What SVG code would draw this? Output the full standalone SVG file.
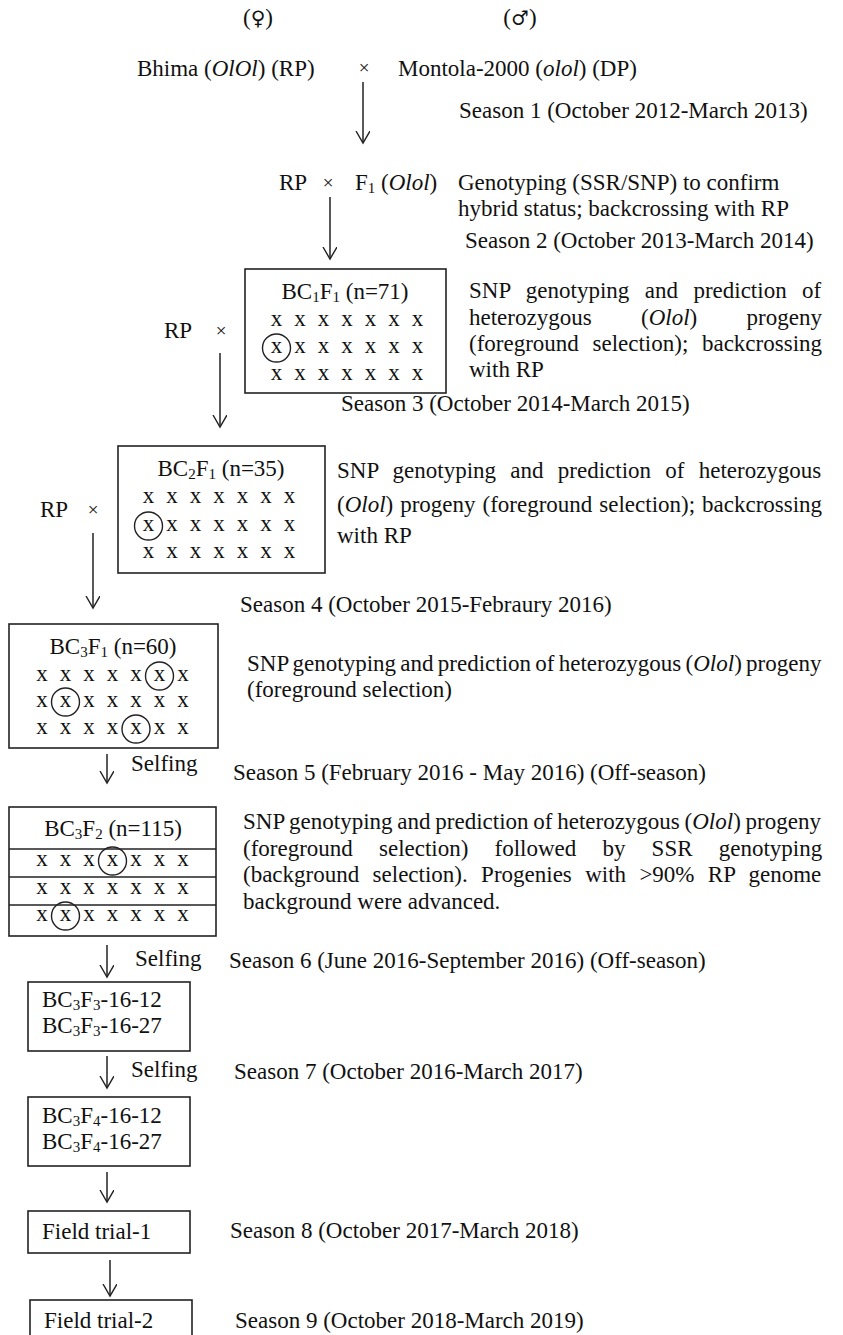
<svg xmlns="http://www.w3.org/2000/svg" width="843" height="1335" viewBox="0 0 843 1335">
<defs>
<style>
text{font-family:"Liberation Serif","Times New Roman",serif;font-size:23px;fill:#111}
.sym{font-family:"DejaVu Serif","Liberation Serif",serif;font-size:20px}
.x{font-size:23px}
.c{text-anchor:middle}
.box{fill:none;stroke:#222;stroke-width:1.6}
.ln{stroke:#222;stroke-width:1.5;fill:none}
.ring{fill:none;stroke:#222;stroke-width:1.4}
.times{font-size:19px}
</style>
<marker id="ah" markerWidth="16" markerHeight="16" refX="12" refY="7" orient="auto" markerUnits="userSpaceOnUse"><path d="M0,0 L12,7 L0,14" fill="none" stroke="#222" stroke-width="1.4"/></marker>
</defs>
<rect width="843" height="1335" fill="#fff"/>

<g id="parents">
<text class="c" x="258" y="25">(<tspan class="sym">♀</tspan>)</text>
<text class="c" x="520" y="25">(<tspan class="sym">♂</tspan>)</text>
<text x="137" y="76">Bhima (<tspan font-style="italic">OlOl</tspan>) (RP)</text>
<text class="c times" x="364" y="74">×</text>
<text x="398" y="76">Montola-2000 (<tspan font-style="italic">olol</tspan>) (DP)</text>
<text x="459" y="118">Season 1 (October 2012-March 2013)</text>
</g>

<g id="f1">
<text x="279" y="190">RP</text>
<text class="c times" x="328" y="189">×</text>
<text x="355" y="190">F<tspan font-size="15" dy="3">1</tspan><tspan dy="-3"> (</tspan><tspan font-style="italic">Olol</tspan>)</text>
<text x="458" y="190">Genotyping (SSR/SNP) to confirm</text>
<text x="458" y="216">hybrid status; backcrossing with RP</text>
<text x="465" y="248">Season 2 (October 2013-March 2014)</text>
</g>

<g id="bc1f1">
<rect class="box" x="245" y="269" width="201" height="124"/>
<text class="c" x="345" y="299">BC<tspan font-size="15" dy="3">1</tspan><tspan dy="-3">F</tspan><tspan font-size="15" dy="3">1</tspan><tspan dy="-3"> (n=71)</tspan></text>
<text class="x c" x="276.5 300 323.5 347 370.5 394 417.5" y="326">xxxxxxx</text>
<text class="x c" x="276.5 300 323.5 347 370.5 394 417.5" y="353">xxxxxxx</text>
<text class="x c" x="276.5 300 323.5 347 370.5 394 417.5" y="380">xxxxxxx</text>
<circle class="ring" cx="276.5" cy="348" r="14"/>
<text x="164" y="338">RP</text>
<text class="c times" x="221" y="337">×</text>
<text x="469" y="298" word-spacing="9.7">SNP genotyping and prediction of</text>
<text x="469" y="325" word-spacing="43.6">heterozygous (<tspan font-style="italic">Olol</tspan>) progeny</text>
<text x="469" y="351" word-spacing="7.9">(foreground selection); backcrossing</text>
<text x="469" y="377">with RP</text>
<text x="341" y="411">Season 3 (October 2014-March 2015)</text>
</g>

<g id="bc2f1">
<rect class="box" x="118" y="446" width="207" height="127"/>
<text class="c" x="221" y="476">BC<tspan font-size="15" dy="3">2</tspan><tspan dy="-3">F</tspan><tspan font-size="15" dy="3">1</tspan><tspan dy="-3"> (n=35)</tspan></text>
<text class="x c" x="148.5 172 195.5 219 242.5 266 289.5" y="503">xxxxxxx</text>
<text class="x c" x="148.5 172 195.5 219 242.5 266 289.5" y="531">xxxxxxx</text>
<text class="x c" x="148.5 172 195.5 219 242.5 266 289.5" y="558">xxxxxxx</text>
<circle class="ring" cx="148.5" cy="526" r="14"/>
<text x="40" y="517">RP</text>
<text class="c times" x="93" y="516">×</text>
<text x="337" y="478" word-spacing="8.5">SNP genotyping and prediction of heterozygous</text>
<text x="337" y="512" word-spacing="1.2">(<tspan font-style="italic">Olol</tspan>) progeny (foreground selection); backcrossing</text>
<text x="337" y="543">with RP</text>
<text x="240" y="612">Season 4 (October 2015-Febraury 2016)</text>
</g>

<g id="bc3f1">
<rect class="box" x="9" y="624" width="209" height="124"/>
<text class="c" x="113" y="654">BC<tspan font-size="15" dy="3">3</tspan><tspan dy="-3">F</tspan><tspan font-size="15" dy="3">1</tspan><tspan dy="-3"> (n=60)</tspan></text>
<text class="x c" x="42 65.5 89 112.5 136 159.5 183" y="681">xxxxxxx</text>
<text class="x c" x="42 65.5 89 112.5 136 159.5 183" y="707">xxxxxxx</text>
<text class="x c" x="42 65.5 89 112.5 136 159.5 183" y="734">xxxxxxx</text>
<circle class="ring" cx="159.5" cy="676" r="14"/>
<circle class="ring" cx="65.5" cy="702" r="14"/>
<circle class="ring" cx="136" cy="729" r="14"/>
<text x="247" y="671" word-spacing="-1.5">SNP genotyping and prediction of heterozygous (<tspan font-style="italic">Olol</tspan>) progeny</text>
<text x="247" y="697">(foreground selection)</text>
<text x="131" y="771">Selfing</text>
<text x="233" y="780">Season 5 (February 2016 - May 2016) (Off-season)</text>
</g>

<g id="bc3f2">
<rect class="box" x="9" y="807" width="207" height="129"/>
<line class="ln" x1="9" y1="849" x2="216" y2="849"/>
<line class="ln" x1="9" y1="877" x2="216" y2="877"/>
<line class="ln" x1="9" y1="905" x2="216" y2="905"/>
<text class="c" x="113" y="836">BC<tspan font-size="15" dy="3">3</tspan><tspan dy="-3">F</tspan><tspan font-size="15" dy="3">2</tspan><tspan dy="-3"> (n=115)</tspan></text>
<text class="x c" x="42 65.5 89 112.5 136 159.5 183" y="866">xxxxxxx</text>
<text class="x c" x="42 65.5 89 112.5 136 159.5 183" y="894">xxxxxxx</text>
<text class="x c" x="42 65.5 89 112.5 136 159.5 183" y="921">xxxxxxx</text>
<circle class="ring" cx="112.5" cy="861" r="14"/>
<circle class="ring" cx="65.5" cy="916" r="14"/>
<text x="243" y="829" word-spacing="-1">SNP genotyping and prediction of heterozygous (<tspan font-style="italic">Olol</tspan>) progeny</text>
<text x="243" y="856" word-spacing="20.4">(foreground selection) followed by SSR genotyping</text>
<text x="243" y="882" word-spacing="7.6">(background selection). Progenies with &gt;90% RP genome</text>
<text x="243" y="909">background were advanced.</text>
<text x="135" y="966">Selfing</text>
<text x="229" y="968">Season 6 (June 2016-September 2016) (Off-season)</text>
</g>

<g id="bc3f3">
<rect class="box" x="28" y="982" width="162" height="69"/>
<text x="42" y="1007">BC<tspan font-size="15" dy="3">3</tspan><tspan dy="-3">F</tspan><tspan font-size="15" dy="3">3</tspan><tspan dy="-3">-16-12</tspan></text>
<text x="42" y="1033">BC<tspan font-size="15" dy="3">3</tspan><tspan dy="-3">F</tspan><tspan font-size="15" dy="3">3</tspan><tspan dy="-3">-16-27</tspan></text>
<text x="131" y="1077">Selfing</text>
<text x="234" y="1079">Season 7 (October 2016-March 2017)</text>
</g>

<g id="bc3f4">
<rect class="box" x="28" y="1097" width="162" height="69"/>
<text x="42" y="1123">BC<tspan font-size="15" dy="3">3</tspan><tspan dy="-3">F</tspan><tspan font-size="15" dy="3">4</tspan><tspan dy="-3">-16-12</tspan></text>
<text x="42" y="1149">BC<tspan font-size="15" dy="3">3</tspan><tspan dy="-3">F</tspan><tspan font-size="15" dy="3">4</tspan><tspan dy="-3">-16-27</tspan></text>
</g>

<g id="field1">
<rect class="box" x="28" y="1211" width="162" height="42"/>
<text x="42" y="1239">Field trial-1</text>
<text x="230" y="1238">Season 8 (October 2017-March 2018)</text>
</g>

<g id="field2">
<rect class="box" x="30" y="1300" width="162" height="50"/>
<text x="44" y="1328">Field trial-2</text>
<text x="235" y="1328">Season 9 (October 2018-March 2019)</text>
</g>

<g id="connectors">
<line class="ln" x1="363" y1="82" x2="363" y2="143" marker-end="url(#ah)"/>
<line class="ln" x1="330" y1="197" x2="330" y2="259" marker-end="url(#ah)"/>
<line class="ln" x1="220" y1="353" x2="220" y2="427" marker-end="url(#ah)"/>
<line class="ln" x1="93" y1="533" x2="93" y2="608" marker-end="url(#ah)"/>
<line class="ln" x1="107" y1="754" x2="107" y2="783" marker-end="url(#ah)"/>
<line class="ln" x1="107" y1="945" x2="107" y2="977" marker-end="url(#ah)"/>
<line class="ln" x1="107" y1="1056" x2="107" y2="1088" marker-end="url(#ah)"/>
<line class="ln" x1="107" y1="1172" x2="107" y2="1202" marker-end="url(#ah)"/>
<line class="ln" x1="110" y1="1260" x2="110" y2="1296" marker-end="url(#ah)"/>
</g>
</svg>
